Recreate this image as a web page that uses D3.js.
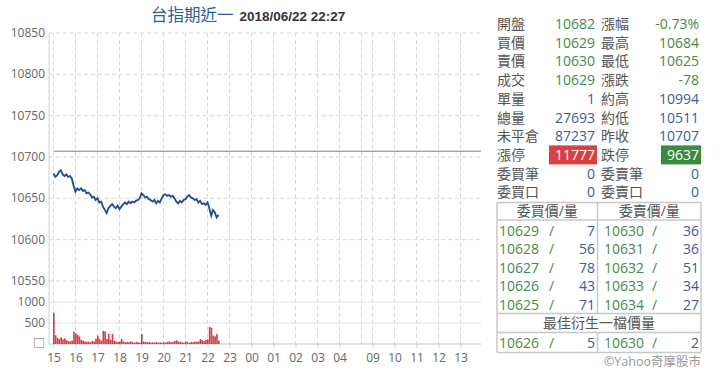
<!DOCTYPE html>
<html>
<head>
<meta charset="utf-8">
<script src="https://cdn.jsdelivr.net/npm/d3@7"></script>
<style>
  body { margin: 0; background: #fff; }
  text { font-family: "Open Sans", "Noto Sans CJK TC", sans-serif; }
</style>
</head>
<body>
<div id="chart"></div>
<script>
var title = "台指期近一";
var stamp = "2018/06/22 22:27";

var priceTicks = [10550, 10600, 10650, 10700, 10750, 10800, 10850];
var volTicks = [0, 500, 1000];
var volTickLabels = ["□", "500", "1000"];
var hourTicks = [15, 16, 17, 18, 19, 20, 21, 22, 23, 0, 1, 2, 3, 4, 9, 10, 11, 12, 13];
var prevClose = 10707;

// 5-minute samples starting 15:00
var prices = [10680, 10676, 10678, 10682, 10684, 10679, 10677, 10679, 10676, 10677,
  10674, 10665, 10658, 10662, 10660, 10662, 10659, 10660, 10656, 10657,
  10655, 10651, 10652, 10648, 10650, 10645, 10646, 10640, 10636, 10632,
  10638, 10641, 10643, 10640, 10638, 10641, 10637, 10640, 10643, 10645,
  10643, 10646, 10644, 10646, 10645, 10647, 10648, 10650, 10656, 10654,
  10651, 10652, 10649, 10648, 10646, 10648, 10644, 10647, 10645, 10650,
  10654, 10655, 10653, 10654, 10652, 10653, 10650, 10646, 10644, 10647,
  10645, 10648, 10649, 10652, 10654, 10651, 10650, 10648, 10649, 10645,
  10647, 10643, 10644, 10642, 10645, 10638, 10629, 10636, 10633, 10627, 10630];

var volumes = [745, 210, 150, 120, 160, 110, 130, 90, 70, 60,
  80, 290, 250, 220, 180, 100, 80, 60, 50, 60,
  40, 70, 60, 130, 200, 120, 80, 310, 300, 120,
  240, 100, 240, 80, 60, 50, 60, 120, 60, 40,
  50, 40, 60, 40, 30, 50, 40, 30, 240, 60,
  50, 40, 50, 30, 40, 30, 50, 30, 40, 30,
  40, 30, 50, 60, 40, 50, 70, 90, 60, 50,
  40, 30, 60, 40, 30, 50, 40, 60, 50, 60,
  120, 90, 70, 100, 110, 410, 390, 200, 180, 240, 80];

var quoteLabels = [["開盤", "漲幅"], ["買價", "最高"], ["賣價", "最低"], ["成交", "漲跌"], ["單量", "約高"],
  ["總量", "約低"], ["未平倉", "昨收"], ["漲停", "跌停"], ["委買筆", "委賣筆"], ["委買口", "委賣口"]];
var quoteValues = [["10682", "-0.73%"], ["10629", "10684"], ["10630", "10625"], ["10629", "-78"], ["1", "10994"],
  ["27693", "10511"], ["87237", "10707"], ["11777", "9637"], ["0", "0"], ["0", "0"]];
var quoteKind = ["down", "down", "down", "down", "flat", "flat", "flat", "limit", "flat", "flat"];

var bookHeaders = ["委買價/量", "委賣價/量"];
var bidPrices = [10629, 10628, 10627, 10626, 10625];
var bidQty = [7, 56, 78, 43, 71];
var askPrices = [10630, 10631, 10632, 10633, 10634];
var askQty = [36, 36, 51, 34, 27];
var bestTitle = "最佳衍生一檔價量";
var bestBid = [10626, 5];
var bestAsk = [10630, 2];
var credit = "©Yahoo奇摩股市";

var width = 720, height = 377;
var green = "#3f8c4a", blue = "#3b5b9c", gray = "#555", grid = "#d8d8d8";

// session clock: 15:00 -> 0, 05:00 -> 14, day session 08:45 -> 14.25
function sessionHour(h) {
  if (h >= 15) return h - 15;
  if (h < 5) return h + 9;
  return h + 5.5;
}

var x = d3.scaleLinear().domain([0, 19.25]).range([53.5, 477]);
var y = d3.scaleLinear().domain([10550, 10850]).range([281, 33]);
var yv = d3.scaleLinear().domain([0, 1000]).range([344, 302]);
var plotLeft = 49, plotRight = 481;

var svg = d3.select("#chart").append("svg")
  .attr("width", width)
  .attr("height", height);

// title
var t = svg.append("text").attr("x", 151).attr("y", 21);
t.append("tspan").text(title)
  .style("font-size", "16.5px").style("fill", "#2a5ca3").style("font-family", "Noto Sans CJK TC");
t.append("tspan").attr("dx", 6).text(stamp)
  .style("font-size", "13.5px").style("font-weight", "bold").style("fill", "#333")
  .style("font-family", "Liberation Sans");

// vertical dashed grid
var vgrid = hourTicks.map(sessionHour).concat([14]);
svg.selectAll("line.vgrid").data(vgrid).enter().append("line")
  .attr("class", "vgrid")
  .attr("x1", function(d) { return x(d); }).attr("x2", function(d) { return x(d); })
  .attr("y1", 33).attr("y2", 344)
  .style("stroke", grid).style("stroke-dasharray", "4,3");

// price grid + labels
svg.selectAll("line.pgrid").data(priceTicks).enter().append("line")
  .attr("class", "pgrid")
  .attr("x1", plotLeft).attr("x2", plotRight)
  .attr("y1", function(d) { return y(d); }).attr("y2", function(d) { return y(d); })
  .style("stroke", grid).style("stroke-dasharray", "4,3");

svg.selectAll("text.plabel").data(priceTicks).enter().append("text")
  .attr("class", "plabel")
  .attr("x", 45).attr("y", function(d) { return y(d) + 4; })
  .attr("text-anchor", "end")
  .style("font-size", "12px").style("fill", "#666")
  .text(function(d) { return d; });

// volume grid + labels
svg.selectAll("line.vgridh").data(volTicks).enter().append("line")
  .attr("class", "vgridh")
  .attr("x1", plotLeft).attr("x2", plotRight)
  .attr("y1", function(d) { return yv(d); }).attr("y2", function(d) { return yv(d); })
  .style("stroke", function(d) { return d === 0 ? "#b8c8d8" : "#dde3ea"; });

svg.selectAll("text.vlabel").data(volTicks).enter().append("text")
  .attr("class", "vlabel")
  .attr("x", 45).attr("y", function(d) { return yv(d) + 4; })
  .attr("text-anchor", "end")
  .style("font-size", "12px").style("fill", "#666")
  .text(function(d, i) { return volTickLabels[i]; });

// y axis line
svg.append("line")
  .attr("x1", plotLeft).attr("x2", plotLeft).attr("y1", 33).attr("y2", 344)
  .style("stroke", "#c5d3e2");

// x axis ticks and labels
var xa = svg.append("g").attr("transform", "translate(0,344)")
  .call(d3.axisBottom(x)
    .tickValues(hourTicks.map(sessionHour))
    .tickSize(4)
    .tickFormat(function(d, i) { return d3.format("02")(hourTicks[i]); }));
xa.select(".domain").remove();
xa.selectAll("line").style("stroke", "#c5d3e2");
xa.selectAll("text").style("font-size", "12px").style("fill", "#666")
  .style("font-family", "Open Sans").attr("dy", "0.9em");

// previous close reference
svg.append("line")
  .attr("x1", x(0)).attr("x2", plotRight)
  .attr("y1", y(prevClose)).attr("y2", y(prevClose))
  .style("stroke", "#a8a8a8").style("stroke-width", 1.5);

// volume bars
svg.selectAll("rect.vol").data(volumes).enter().append("rect")
  .attr("class", "vol")
  .attr("x", function(d, i) { return x(i * 5 / 60) - 0.5; })
  .attr("width", 1.6)
  .attr("y", function(d) { return yv(d); })
  .attr("height", function(d) { return yv(0) - yv(d); })
  .style("fill", "#d8383f");

// price line
var line = d3.line()
  .x(function(d, i) { return x(i * 5 / 60); })
  .y(function(d) { return y(d); });

svg.append("path").datum(prices)
  .attr("d", line)
  .style("fill", "none")
  .style("stroke", "#1f4a97")
  .style("stroke-width", 1.8);

// quote table
var rowY = function(i) { return 24 + i * 18.7; };
var q = svg.selectAll("g.qrow").data(quoteLabels).enter().append("g").attr("class", "qrow");

q.each(function(d, i) {
  var g = d3.select(this), cy = rowY(i);
  var kind = quoteKind[i];
  var color = kind === "down" ? green : blue;
  g.append("text").attr("x", 497).attr("y", cy + 5).text(d[0])
    .style("font-size", "14px").style("fill", gray);
  g.append("text").attr("x", 601).attr("y", cy + 5).text(d[1])
    .style("font-size", "14px").style("fill", gray);
  if (kind === "limit") {
    g.append("rect").attr("x", 549).attr("y", cy - 9.5).attr("width", 48).attr("height", 19)
      .style("fill", "#d9403f");
    g.append("rect").attr("x", 661).attr("y", cy - 9.5).attr("width", 40).attr("height", 19)
      .style("fill", "#3a8a40");
  }
  var c = kind === "limit" ? "#fff" : color;
  g.append("text").attr("x", 595).attr("y", cy + 5).attr("text-anchor", "end").text(quoteValues[i][0])
    .style("font-size", "14px").style("fill", c);
  g.append("text").attr("x", 699).attr("y", cy + 5).attr("text-anchor", "end").text(quoteValues[i][1])
    .style("font-size", "14px").style("fill", c);
});

// order book box
var bx0 = 497, bxm = 597.5, bx1 = 701;
var border = "#c8c8c8";
function hline(yy) {
  svg.append("line").attr("x1", bx0).attr("x2", bx1).attr("y1", yy).attr("y2", yy)
    .style("stroke", border).style("stroke-width", 1.5);
}
function vline(xx, y0, y1) {
  svg.append("line").attr("x1", xx).attr("x2", xx).attr("y1", y0).attr("y2", y1)
    .style("stroke", border).style("stroke-width", 1.5);
}
hline(202.5); hline(220); hline(313.5); hline(332.5); hline(352.5);
vline(bx0, 202.5, 352.5); vline(bx1, 202.5, 352.5);
vline(bxm, 202.5, 313.5); vline(bxm, 332.5, 352.5);

svg.selectAll("text.bh").data(bookHeaders).enter().append("text")
  .attr("class", "bh")
  .attr("x", function(d, i) { return i === 0 ? (bx0 + bxm) / 2 : (bxm + bx1) / 2; })
  .attr("y", 216).attr("text-anchor", "middle")
  .style("font-size", "14px").style("fill", gray)
  .text(function(d) { return d; });

function bookRow(cy, bp, bq, ap, aq) {
  var cells = [
    [499, "start", bp, green], [549, "start", "/", green], [595, "end", bq, blue],
    [604, "start", ap, green], [652, "start", "/", green], [699, "end", aq, blue]
  ];
  cells.forEach(function(c) {
    svg.append("text").attr("x", c[0]).attr("y", cy + 5).attr("text-anchor", c[1])
      .text(c[2]).style("font-size", "14px").style("fill", c[3]);
  });
}
bidPrices.forEach(function(p, i) {
  bookRow(230.5 + i * 18.6, p, bidQty[i], askPrices[i], askQty[i]);
});

svg.append("text").attr("x", (bx0 + bx1) / 2).attr("y", 328).attr("text-anchor", "middle")
  .text(bestTitle).style("font-size", "14px").style("fill", gray);
bookRow(342.5, bestBid[0], bestBid[1], bestAsk[0], bestAsk[1]);

svg.append("text").attr("x", 701).attr("y", 366).attr("text-anchor", "end")
  .text(credit).style("font-size", "12.5px").style("fill", "#999");
</script>
</body>
</html>
